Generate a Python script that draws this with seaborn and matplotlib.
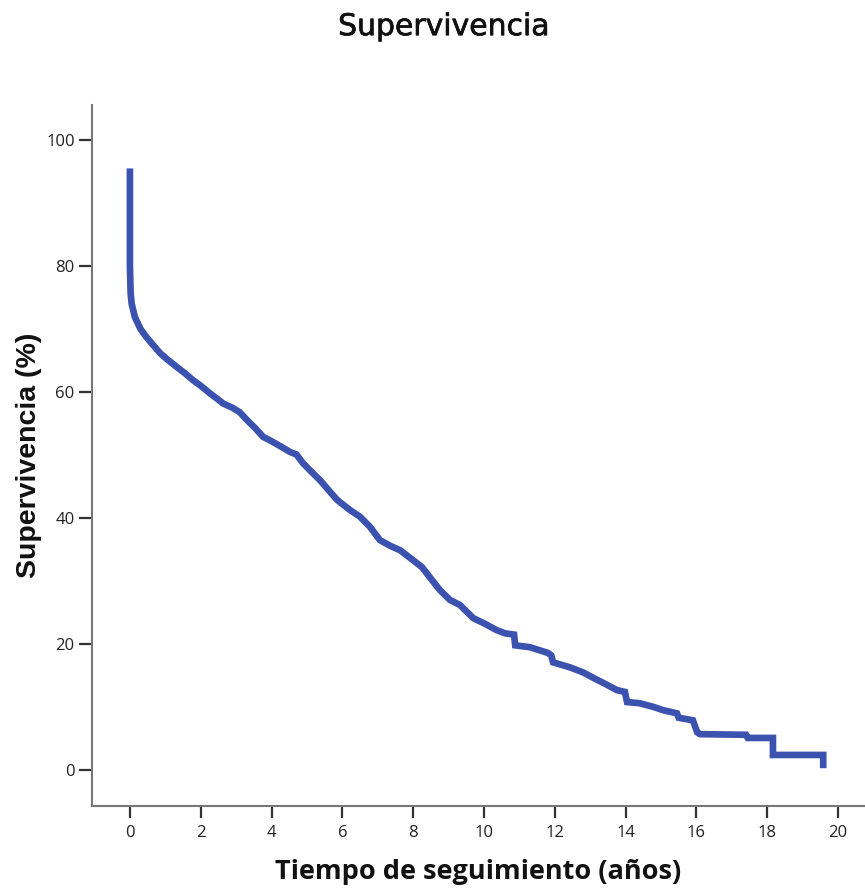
import matplotlib
matplotlib.use("Agg")
import matplotlib.pyplot as plt
import matplotlib.patheffects as pe
import seaborn as sns
import pandas as pd

# Kaplan-Meier estimate (years of follow-up vs. survival %)
tiempo = [0.00, 0.00, 0.02, 0.05, 0.14, 0.30, 0.47, 0.65, 0.85, 1.05,
          1.32, 1.55, 1.78, 2.00, 2.26, 2.45, 2.63, 2.90, 3.10, 3.30,
          3.55, 3.76, 4.00, 4.25, 4.52, 4.70, 4.89, 5.10, 5.37, 5.60,
          5.85, 6.05, 6.21, 6.50, 6.78, 7.06, 7.35, 7.63, 8.00, 8.25,
          8.47, 8.75, 9.04, 9.32, 9.70, 10.00, 10.36, 10.60, 10.85, 10.88,
          11.30, 11.80, 11.90, 11.95, 12.43, 12.80, 13.10, 13.45, 13.75, 13.98,
          14.04, 14.40, 14.80, 15.06, 15.45, 15.50, 15.90, 16.02, 16.10, 17.40,
          17.45, 18.16, 18.16, 19.58, 19.58]
supervivencia = [95.5, 80.0, 75.7, 74.0, 71.9, 70.0, 68.7, 67.5, 66.2, 65.2,
                 64.0, 63.0, 61.9, 61.0, 59.8, 59.0, 58.2, 57.5, 56.8, 55.6,
                 54.2, 52.9, 52.2, 51.4, 50.5, 50.1, 48.7, 47.5, 46.0, 44.5,
                 42.9, 42.0, 41.3, 40.2, 38.6, 36.5, 35.6, 34.9, 33.3, 32.2,
                 30.6, 28.6, 27.0, 26.2, 24.1, 23.3, 22.2, 21.7, 21.5, 19.8,
                 19.5, 18.6, 18.2, 17.1, 16.3, 15.5, 14.6, 13.6, 12.7, 12.4,
                 10.8, 10.6, 10.0, 9.5, 9.0, 8.3, 7.9, 6.0, 5.7, 5.6,
                 5.1, 5.1, 2.4, 2.4, 0.3]

x_ticks = [0, 2, 4, 6, 8, 10, 12, 14, 16, 18, 20]
y_ticks = [0, 20, 40, 60, 80, 100]

df = pd.DataFrame({"Tiempo": tiempo, "Supervivencia": supervivencia})

sns.set_theme(style="ticks")
plt.rcParams["font.family"] = ["DejaVu Sans"]

fig = plt.figure(figsize=(8.65, 8.88), dpi=100)
ax = fig.add_axes([0.1064, 0.0923, 0.8936, 0.7894])

sns.lineplot(data=df, x="Tiempo", y="Supervivencia", sort=False,
             estimator=None, color="#3B52AE", linewidth=4.8,
             solid_capstyle="butt", solid_joinstyle="miter", ax=ax)

ax.set_xlim(-1.07, 20.76)
ax.set_ylim(-5.71, 105.56)
ax.set_xticks(x_ticks)
ax.set_yticks(y_ticks)
ax.set_xticklabels([str(v) for v in x_ticks], fontfamily="Open Sans",
                   fontsize=12, color="#222222")
ax.set_yticklabels([str(v) for v in y_ticks], fontfamily="Open Sans",
                   fontsize=12, color="#222222")

for side in ("top", "right"):
    ax.spines[side].set_visible(False)
for side in ("left", "bottom"):
    ax.spines[side].set_color("#777777")
    ax.spines[side].set_linewidth(1.5)

ax.tick_params(axis="y", length=9.5, width=1.6, color="#333333", pad=3)
ax.tick_params(axis="x", length=8.5, width=1.6, color="#333333", pad=5)

ax.set_xlabel("Tiempo de seguimiento (años)", fontfamily="Open Sans",
              fontweight="bold", fontsize=19.5, color="#111111", labelpad=13)
ax.set_ylabel("Supervivencia (%)", fontfamily="Liberation Sans",
              fontweight="bold", fontsize=20.5, color="#111111", labelpad=3)

fig.text(0.513, 0.970, "Supervivencia", ha="center", va="center",
         fontfamily="DejaVu Sans", fontsize=21.5, color="#111111",
         path_effects=[pe.withStroke(linewidth=0.5, foreground="#111111")])

fig.savefig("out.png", dpi=100, facecolor="white")
